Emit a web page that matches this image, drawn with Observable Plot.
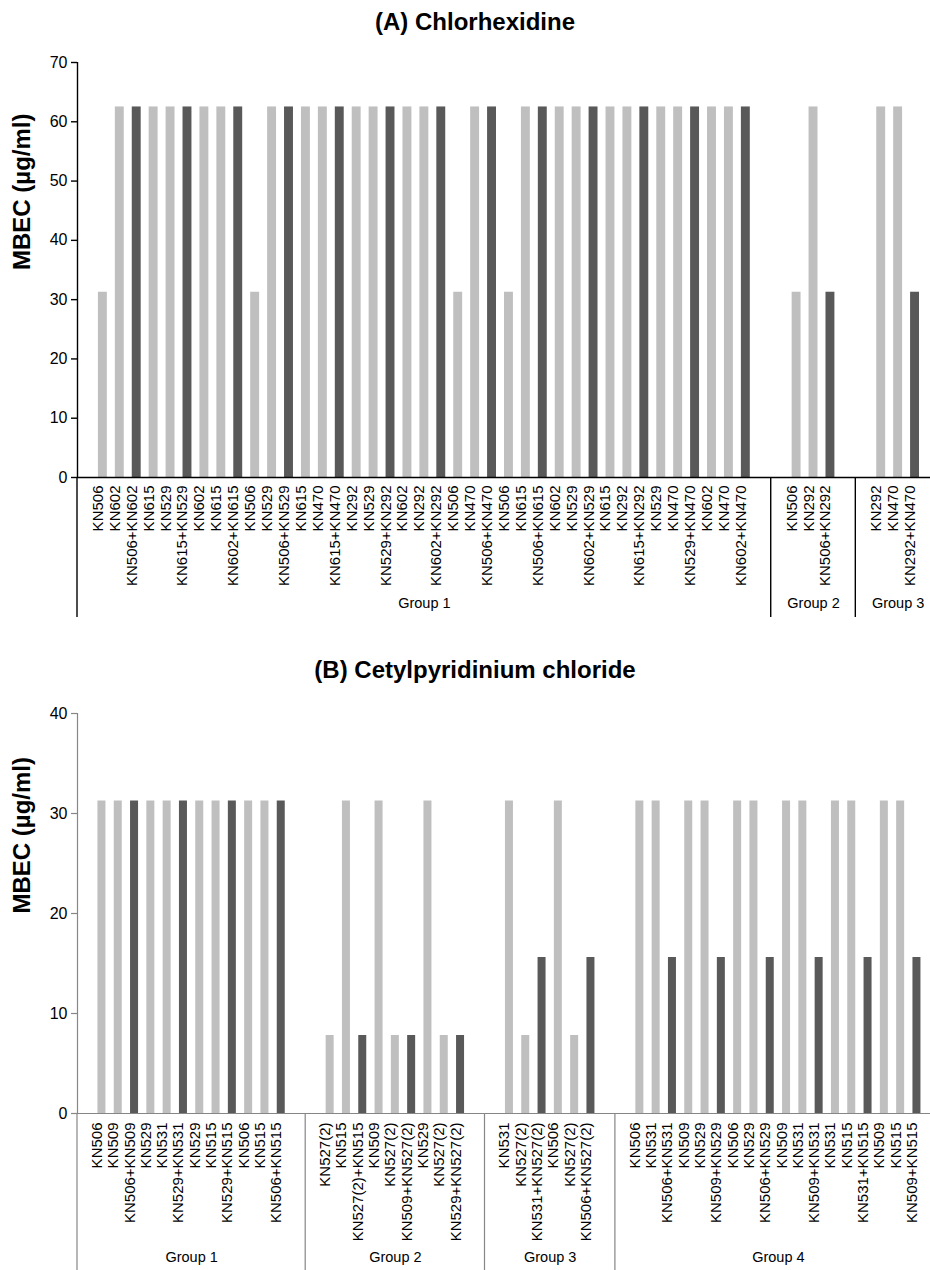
<!DOCTYPE html>
<html><head><meta charset="utf-8">
<script src="https://cdn.jsdelivr.net/npm/d3@7"></script>
<script src="https://cdn.jsdelivr.net/npm/@observablehq/plot@0.6"></script>
<style>
html,body{margin:0;padding:0;overflow:hidden;background:#fff;width:930px;height:1270px;}
body{position:relative;font-family:"Liberation Sans",Arial,sans-serif;}
.title{position:absolute;left:0;width:950px;text-align:center;font-weight:bold;font-size:24px;line-height:24px;color:#000;}
#A,#B{position:absolute;left:0;}
#A{top:0}
#B{top:625px}
</style></head><body>
<div id="A"></div><div id="B"></div>
<div class="title" style="top:10px">(A) Chlorhexidine</div>
<div class="title" style="top:658px">(B) Cetylpyridinium chloride</div>
<script>
// ---------- Panel A: Chlorhexidine ----------
const groupsA = ["Group 1", "Group 2", "Group 3"];
const labelsA1 = ["KN506","KN602","KN506+KN602","KN615","KN529","KN615+KN529","KN602","KN615","KN602+KN615",
  "KN506","KN529","KN506+KN529","KN615","KN470","KN615+KN470","KN292","KN529","KN529+KN292",
  "KN602","KN292","KN602+KN292","KN506","KN470","KN506+KN470","KN506","KN615","KN506+KN615",
  "KN602","KN529","KN602+KN529","KN615","KN292","KN615+KN292","KN529","KN470","KN529+KN470",
  "KN602","KN470","KN602+KN470"];
const valuesA1 = [31.25,62.5,62.5, 62.5,62.5,62.5, 62.5,62.5,62.5,
  31.25,62.5,62.5, 62.5,62.5,62.5, 62.5,62.5,62.5,
  62.5,62.5,62.5, 31.25,62.5,62.5, 31.25,62.5,62.5,
  62.5,62.5,62.5, 62.5,62.5,62.5, 62.5,62.5,62.5,
  62.5,62.5,62.5];
const labelsA2 = ["KN506","KN292","KN506+KN292"];
const valuesA2 = [31.25,62.5,31.25];
const labelsA3 = ["KN292","KN470","KN292+KN470"];
const valuesA3 = [62.5,62.5,31.25];
const yTicksA = [0,10,20,30,40,50,60,70];

// ---------- Panel B: Cetylpyridinium chloride ----------
const groupsB = ["Group 1", "Group 2", "Group 3", "Group 4"];
const labelsB1 = ["KN506","KN509","KN506+KN509","KN529","KN531","KN529+KN531","KN529","KN515","KN529+KN515","KN506","KN515","KN506+KN515"];
const valuesB1 = [31.25,31.25,31.25,31.25,31.25,31.25,31.25,31.25,31.25,31.25,31.25,31.25];
const labelsB2 = ["KN527(2)","KN515","KN527(2)+KN515","KN509","KN527(2)","KN509+KN527(2)","KN529","KN527(2)","KN529+KN527(2)"];
const valuesB2 = [7.8,31.25,7.8, 31.25,7.8,7.8, 31.25,7.8,7.8];
const labelsB3 = ["KN531","KN527(2)","KN531+KN527(2)","KN506","KN527(2)","KN506+KN527(2)"];
const valuesB3 = [31.25,7.8,15.6, 31.25,7.8,15.6];
const labelsB4 = ["KN506","KN531","KN506+KN531","KN509","KN529","KN509+KN529","KN506","KN529","KN506+KN529",
  "KN509","KN531","KN509+KN531","KN531","KN515","KN531+KN515","KN509","KN515","KN509+KN515"];
const valuesB4 = [31.25,31.25,15.6, 31.25,31.25,15.6, 31.25,31.25,15.6, 31.25,31.25,15.6, 31.25,31.25,15.6, 31.25,31.25,15.6];
const yTicksB = [0,10,20,30,40];

const yLabel = "MBEC (µg/ml)";
const LIGHT = "#bfbfbf", DARK = "#595959";
const FONT = "'Liberation Sans', Arial, sans-serif";

function buildSlots(groups, labels, values) {
  const items = [], bounds = [0], centers = [];
  let i = 0;
  groups.forEach((g, gi) => {
    const start = i;
    i += 1; // blank slot before group
    labels[gi].forEach((lab, j) => {
      items.push({slot: i, label: lab, value: values[gi][j], combo: lab.includes("+")});
      i += 1;
    });
    i += 1; // blank slot after group
    bounds.push(i);
    centers.push({name: g, mid: (start + i) / 2});
  });
  return {items, bounds, centers, n: i};
}

function panel(el, d, o) {
  const chart = Plot.plot({
    width: 930, height: o.height,
    marginLeft: 77, marginRight: 0, marginTop: o.marginTop, marginBottom: o.marginBottom,
    style: {fontFamily: FONT, fontSize: "15px", color: "#000", background: "#fff", overflow: "hidden"},
    x: {domain: [0, d.n], range: [77, 77 + d.n * o.pitch], axis: null},
    y: {domain: [0, o.yMax], axis: null},
    marks: [
      Plot.rect(d.items.filter(s => !s.combo), {x1: "slot", x2: s => s.slot + 1, y1: 0, y2: "value",
        insetLeft: o.inset, insetRight: o.inset, fill: LIGHT}),
      Plot.rect(d.items.filter(s => s.combo), {x1: "slot", x2: s => s.slot + 1, y1: 0, y2: "value",
        insetLeft: o.inset, insetRight: o.inset, fill: DARK}),
      Plot.axisY({ticks: o.yTicks, tickSize: 6, tickPadding: 4, stroke: o.axisColor, strokeWidth: o.axisWidth,
        fill: "#000", fontSize: 16, label: null}),
      Plot.ruleY([0], {stroke: o.axisColor, strokeWidth: o.axisWidth}),
      Plot.ruleX([0], {stroke: o.axisColor, strokeWidth: o.axisWidth}),
      Plot.text(d.items, {x: s => s.slot + 0.5, text: "label", frameAnchor: "bottom", rotate: -90,
        textAnchor: "end", dy: o.labelDy, fontSize: 15, fill: "#000"}),
      Plot.text(d.centers, {x: "mid", text: "name", frameAnchor: "bottom", dy: o.groupDy, fontSize: 14.5, fill: "#000"}),
      Plot.text([yLabel], {frameAnchor: "left", rotate: -90, dx: -55, fontWeight: "bold", fontSize: 24, fill: "#000"})
    ]
  });
  const sx = chart.scale("x"), sy = chart.scale("y");
  const y0 = sy.apply(0);
  d3.select(chart).append("g")
    .selectAll("line").data(d.bounds.slice(0, -1)).join("line")
    .attr("x1", b => sx.apply(b)).attr("x2", b => sx.apply(b))
    .attr("y1", y0).attr("y2", y0 + o.ext)
    .attr("stroke", o.axisColor).attr("stroke-width", o.axisWidth);
  document.getElementById(el).appendChild(chart);
}

const dA = buildSlots(groupsA, [labelsA1, labelsA2, labelsA3], [valuesA1, valuesA2, valuesA3]);
panel("A", dA, {height: 625, marginTop: 62, marginBottom: 148, pitch: 16.92, inset: 4, yMax: 70, yTicks: yTicksA,
  axisColor: "#000", axisWidth: 1.4, labelDy: 8, groupDy: 130, ext: 140});

const dB = buildSlots(groupsB, [labelsB1, labelsB2, labelsB3, labelsB4], [valuesB1, valuesB2, valuesB3, valuesB4]);
panel("B", dB, {height: 645, marginTop: 88, marginBottom: 157, pitch: 16.3, inset: 4.15, yMax: 40, yTicks: yTicksB,
  axisColor: "#868686", axisWidth: 1.2, labelDy: 9, groupDy: 148, ext: 160});
</script>
</body></html>
